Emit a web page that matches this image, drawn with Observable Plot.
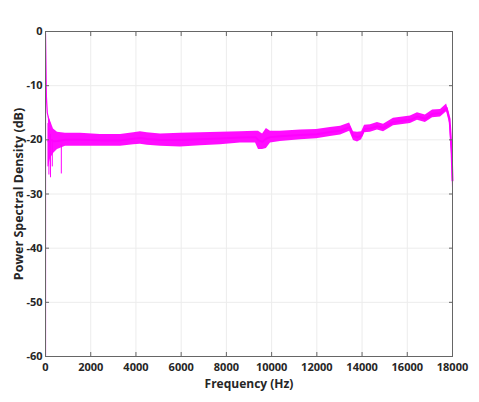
<!DOCTYPE html>
<html>
<head>
<meta charset="utf-8">
<script src="https://cdn.jsdelivr.net/npm/d3@7"></script>
<script src="https://cdn.jsdelivr.net/npm/@observablehq/plot@0.6"></script>
<style>
  html, body { margin: 0; padding: 0; background: #fff; }
  #chart svg { display: block; }
</style>
</head>
<body>
<div id="chart"></div>
<script>
// ---- data ----
const xTicks = [0, 2000, 4000, 6000, 8000, 10000, 12000, 14000, 16000, 18000];
const yTicks = [-60, -50, -40, -30, -20, -10, 0];

// steep start of the spectrum (DC region)
const headFreq = [0, 0, 20, 40, 80, 130, 200];
const headDb   = [-62, -0.2, -6, -12, -15, -16, -17];

// envelope of the noisy PSD trace
const bandFreq  = [130, 221, 354, 530, 885, 1550, 2430, 3320, 3900, 4200, 4500, 5090, 5970, 6860, 7740, 8620, 9290, 9420, 9600, 9770, 9950, 10390, 11280, 11990, 12600, 13050, 13450, 13620, 13800, 13980, 14110, 14370, 14680, 14950, 15390, 16140, 16450, 16800, 17120, 17470, 17740, 17870, 17960, 18000];
const bandUpper = [-15.5, -16.5, -18.0, -18.6, -18.8, -18.8, -19.0, -19.0, -18.7, -18.5, -18.7, -18.9, -18.8, -18.7, -18.6, -18.5, -18.4, -18.4, -18.9, -17.9, -18.4, -18.4, -18.2, -18.1, -17.7, -17.5, -16.9, -18.5, -18.6, -18.5, -17.3, -17.2, -16.8, -17.1, -16.0, -15.6, -15.0, -15.4, -14.5, -14.4, -13.4, -15.3, -21.0, -26.0];
const bandLower = [-25.0, -23.5, -22.5, -21.8, -21.2, -21.2, -21.2, -21.2, -20.9, -20.8, -21.0, -21.2, -21.3, -21.1, -20.9, -20.6, -20.6, -21.8, -21.8, -21.6, -20.6, -20.3, -20.0, -19.8, -19.4, -19.1, -18.4, -20.1, -20.4, -20.0, -18.7, -18.6, -18.2, -18.5, -17.4, -17.0, -16.4, -16.8, -15.9, -15.8, -14.8, -17.0, -23.0, -29.0];

// isolated downward noise spikes near the low end
const spikeFreq = [110, 150, 220, 300, 700];
const spikeLow  = [-25.0, -26.5, -27.0, -25.0, -26.3];
const spikeHigh = [-17.0, -18.0, -19.0, -20.0, -21.0];

// ---- build tables ----
const head = headFreq.map((f, i) => ({f, db: headDb[i]}));
const band = bandFreq.map((f, i) => ({f, hi: bandUpper[i], lo: bandLower[i]}));
const spikes = spikeFreq.map((f, i) => ({f, lo: spikeLow[i], hi: spikeHigh[i]}));

const MAG = "#ff00ff";
const FONT = "'Open Sans', 'DejaVu Sans', sans-serif";

const chart = Plot.plot({
  width: 479,
  height: 402,
  marginLeft: 45,
  marginRight: 27,
  marginTop: 31,
  marginBottom: 46,
  style: {fontFamily: FONT, background: "#fff"},
  x: {domain: [0, 18000], ticks: xTicks},
  y: {domain: [-60, 0], ticks: yTicks},
  marks: [
    Plot.gridX(xTicks, {stroke: "#ececec", strokeOpacity: 1}),
    Plot.gridY(yTicks, {stroke: "#ececec", strokeOpacity: 1}),
    Plot.areaY(band, {x: "f", y1: "lo", y2: "hi", fill: MAG, fillOpacity: 0.95, curve: "linear"}),
    Plot.line(band, {x: "f", y: d => (d.hi + d.lo) / 2, stroke: MAG, strokeWidth: 2}),
    Plot.ruleX(spikes, {x: "f", y1: "lo", y2: "hi", stroke: MAG, strokeWidth: 1}),
    Plot.line(head, {x: "f", y: "db", stroke: MAG, strokeWidth: 1.2, clip: true}),
    Plot.frame({stroke: "#666", strokeWidth: 1}),
    // inward ticks on all four sides
    Plot.axisX(xTicks, {anchor: "bottom", tickSize: -4, tickFormat: () => "", label: null, stroke: "#666"}),
    Plot.axisX(xTicks, {anchor: "top", tickSize: -4, tickFormat: () => "", label: null, stroke: "#666"}),
    Plot.axisY(yTicks, {anchor: "left", tickSize: -4, tickFormat: () => "", label: null, stroke: "#666"}),
    Plot.axisY(yTicks, {anchor: "right", tickSize: -4, tickFormat: () => "", label: null, stroke: "#666"}),
    // tick labels
    Plot.axisX(xTicks, {anchor: "bottom", tickSize: 0, tickPadding: 7, label: null, fontSize: 11, fontWeight: "bold", fill: "#262626", tickFormat: d => String(d)}),
    Plot.axisY(yTicks, {anchor: "left", tickSize: 0, tickPadding: 3, label: null, fontSize: 11, fontWeight: "bold", fill: "#262626", tickFormat: d => String(d)}),
    // axis titles
    Plot.text(["Frequency (Hz)"], {frameAnchor: "bottom", dy: 28, fontSize: 12, fontWeight: "bold", fill: "#262626", lineAnchor: "middle"}),
    Plot.text(["Power Spectral Density (dB)"], {frameAnchor: "left", dx: -27, rotate: -90, fontSize: 12.5, fontWeight: "bold", fill: "#262626", lineAnchor: "middle", textAnchor: "middle"})
  ]
});
document.getElementById("chart").appendChild(chart);
</script>
</body>
</html>
